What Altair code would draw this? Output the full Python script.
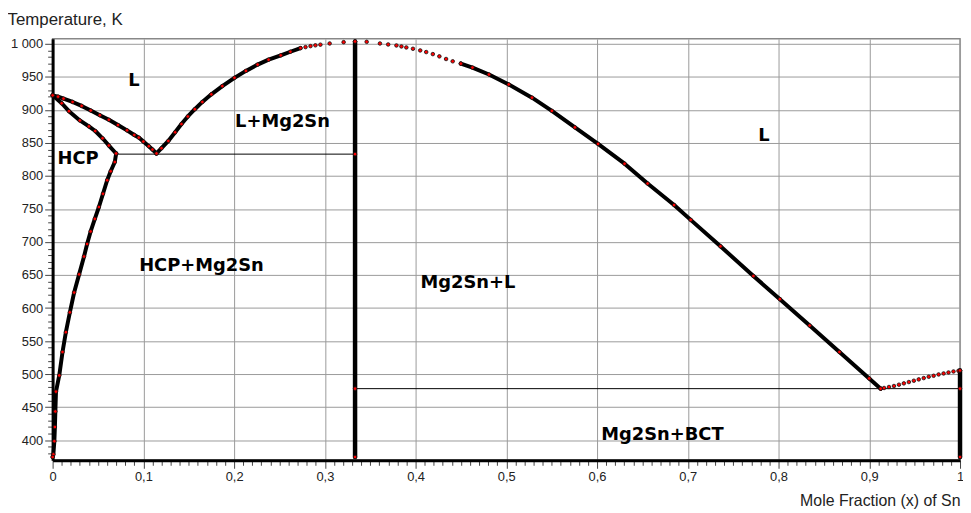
import json
import altair as alt
import pandas as pd

# ---------------- data ----------------
# Mg-rich liquidus (L / L+HCP)
mg_liq_x = [0.000, 0.006, 0.012, 0.022, 0.032, 0.042, 0.052, 0.062, 0.072, 0.082, 0.090, 0.095, 0.100, 0.106, 0.110, 0.1145]
mg_liq_T = [922, 920, 917, 912, 906, 899, 892, 885, 877, 869, 862, 858, 852, 845, 840, 834]
# Mg-rich solidus
mg_sol_x = [0.000, 0.010, 0.018, 0.030, 0.040, 0.047, 0.055, 0.062, 0.070]
mg_sol_T = [922, 910, 898, 884, 875, 868, 857, 846, 834]
# HCP solvus
solvus_x = [0.0700, 0.0685, 0.0640, 0.0601, 0.0555, 0.0510, 0.0465, 0.0419, 0.0380, 0.0346, 0.0292,
            0.0237, 0.0190, 0.0146, 0.0109, 0.0073, 0.0037, 0.0030, 0.0025, 0.0019, 0.0008, 0.0000]
solvus_T = [834, 821, 807, 793.5, 773, 753, 735, 716, 697, 678, 651,
            623.5, 593.5, 563.5, 533.5, 498, 473.5, 443.5, 420, 398.5, 378.5, 374.5]
# Mg2Sn liquidus, Mg side (dense part)
m2s_left_x = [0.1145, 0.1200, 0.1275, 0.1350, 0.1420, 0.1490, 0.1567, 0.1650, 0.1749, 0.1870, 0.2004,
              0.2130, 0.2259, 0.2380, 0.2514, 0.2620, 0.2732]
m2s_left_T = [834, 842, 853, 866, 878.5, 890, 901, 912, 923.5, 936, 948.5,
              959, 968.5, 976, 982.5, 988, 993.5]
# Mg2Sn liquidus near the congruent maximum (sparse points)
top_left_x = [0.2787, 0.2842, 0.2896, 0.2951, 0.3053, 0.3207, 0.3333]
top_left_T = [995, 996.5, 997.7, 998.7, 1000.5, 1002.5, 1003.5]
top_right_x = [0.3461, 0.3607, 0.3698, 0.3789, 0.3844, 0.3898, 0.3971, 0.4051, 0.4117, 0.4190,
               0.4262, 0.4336, 0.4409, 0.4499]
top_right_T = [1003, 1000.5, 999, 997.5, 996, 994.5, 992.5, 990, 987.5, 984.4,
               981, 977, 973.5, 970]
# Mg2Sn liquidus, Sn side (dense part)
m2s_right_x = [0.4499, 0.4627, 0.4809, 0.5027, 0.5283, 0.5502, 0.5756, 0.6011, 0.6303, 0.6557, 0.6849,
               0.7032, 0.7360, 0.7723, 0.8015, 0.8343, 0.8671, 0.8999, 0.9126]
m2s_right_T = [970, 964, 953.5, 938.5, 918.5, 898.5, 873.5, 848.5, 818.5, 788.5, 756,
               733.5, 693.5, 648.5, 613.5, 573.5, 533.5, 493.5, 478]
# Sn liquidus (sparse points)
sn_liq_x = [0.9126, 0.9163, 0.9217, 0.9272, 0.9327, 0.9381, 0.9436, 0.9491, 0.9545, 0.9600, 0.9655,
            0.9709, 0.9764, 0.9819, 0.9873, 0.9928, 0.9983, 1.0]
sn_liq_T = [478, 479, 480.5, 482, 484, 486, 488, 490, 492, 494, 496,
            497.5, 499.5, 501, 502.5, 504, 505, 505.5]
# Mg2Sn compound and pure Sn lines
m2s_vert_x = [0.3333, 0.3333, 0.3333, 0.3333]
m2s_vert_T = [374.5, 478, 833, 1003.5]
sn_vert_x = [1.0, 1.0, 1.0]
sn_vert_T = [374.5, 478, 505.5]
# eutectic tie lines
tie_x1 = [0.070, 0.3333]
tie_x2 = [0.3333, 1.0]
tie_T = [833, 478]
# phase-field labels
lab_text = ["L", "L+Mg2Sn", "HCP", "HCP+Mg2Sn", "Mg2Sn+L", "L", "Mg2Sn+BCT"]
lab_x = [0.0896, 0.2533, 0.028, 0.164, 0.4576, 0.784, 0.672]
lab_T = [944, 881, 826, 663, 637.5, 860, 408]
# axis ticks
x_major = [0, 0.1, 0.2, 0.3, 0.4, 0.5, 0.6, 0.7, 0.8, 0.9, 1]
x_major_labels = ["0", "0,1", "0,2", "0,3", "0,4", "0,5", "0,6", "0,7", "0,8", "0,9", "1"]
x_minor = [round(i * 0.01, 2) for i in range(101)]
y_major = [400, 450, 500, 550, 600, 650, 700, 750, 800, 850, 900, 950, 1000]
y_major_labels = ["400", "450", "500", "550", "600", "650", "700", "750", "800", "850", "900", "950", "1 000"]
y_minor = list(range(380, 1001, 10))

# ---------------- tables ----------------
curves = [
    ("mg_liq", mg_liq_x, mg_liq_T, 4),
    ("mg_sol", mg_sol_x, mg_sol_T, 4),
    ("solvus", solvus_x, solvus_T, 4),
    ("m2s_left", m2s_left_x, m2s_left_T, 4),
    ("top_left", top_left_x, top_left_T, 0),
    ("top_right", top_right_x, top_right_T, 0),
    ("m2s_right", m2s_right_x, m2s_right_T, 4),
    ("sn_liq", sn_liq_x, sn_liq_T, 0),
    ("m2s_vert", m2s_vert_x, m2s_vert_T, 4.5),
    ("sn_vert", sn_vert_x, sn_vert_T, 4.5),
]
rows = []
for name, xs, ts, w in curves:
    for i, (xv, tv) in enumerate(zip(xs, ts)):
        rows.append({"curve": name, "idx": i, "x": xv, "T": tv, "w": w})
df = pd.DataFrame(rows)
df_lines = df[df["w"] > 0]
df_ties = pd.DataFrame({"x": tie_x1, "x2": tie_x2, "T": tie_T})
df_lab = pd.DataFrame({"label": lab_text, "x": lab_x, "T": lab_T})

# ---------------- axes ----------------
xm = json.dumps(x_major)
xl = json.dumps(x_major_labels)
ym = json.dumps(y_major)
yl = json.dumps(y_major_labels)
test_x = f"indexof({xm}, datum.value) >= 0"
test_y = f"indexof({ym}, datum.value) >= 0"

FONT = "Liberation Sans"
GRID = "#9a9a9a"
xaxis = alt.Axis(
    values=x_minor,
    labelExpr=f"{test_x} ? {xl}[indexof({xm}, datum.value)] : ''",
    tickSize={"condition": {"test": test_x, "value": 8}, "value": 5},
    gridOpacity={"condition": {"test": test_x, "value": 1}, "value": 0},
    grid=True, gridColor=GRID, gridWidth=1,
    labelOverlap=False, labelFlush=False,
    domainColor="black", domainWidth=3, tickColor="#444", tickWidth=1,
    labelFont=FONT, labelFontSize=13, labelColor="#222", labelPadding=2,
    title="Mole Fraction (x) of Sn", titleFont=FONT, titleFontSize=16,
    titleFontWeight="normal", titleColor="#222", titleAlign="right",
    titleX=915, titleY=46, titleBaseline="alphabetic", titleAngle=0,
)
yaxis = alt.Axis(
    values=y_minor,
    labelExpr=f"{test_y} ? {yl}[indexof({ym}, datum.value)] : ''",
    tickSize={"condition": {"test": test_y, "value": 8}, "value": 5},
    gridOpacity={"condition": {"test": test_y, "value": 1}, "value": 0},
    grid=True, gridColor=GRID, gridWidth=1,
    labelOverlap=False, labelFlush=False,
    domainColor="black", domainWidth=3, tickColor="#444", tickWidth=1,
    labelFont=FONT, labelFontSize=13, labelColor="#222", labelPadding=2,
    title="Temperature, K", titleFont=FONT, titleFontSize=17,
    titleFontWeight="normal", titleColor="#222", titleAngle=0,
    titleAlign="left", titleBaseline="alphabetic", titleX=-46, titleY=-14,
)
xscale = alt.Scale(domain=[0, 1], nice=False, zero=False)
yscale = alt.Scale(domain=[369.5, 1007.5], nice=False, zero=False)


def X(field="x"):
    return alt.X(f"{field}:Q", scale=xscale, axis=xaxis)


def Y(field="T"):
    return alt.Y(f"{field}:Q", scale=yscale, axis=yaxis)


ties = alt.Chart(df_ties).mark_rule(color="black", strokeWidth=1).encode(
    x=X(), x2="x2:Q", y=Y()
)
lines = alt.Chart(df_lines).mark_line(color="black", strokeCap="round", strokeJoin="round").encode(
    x=X(), y=Y(), detail="curve:N", order="idx:Q",
    strokeWidth=alt.StrokeWidth("w:Q", scale=None, legend=None),
)
points = alt.Chart(df).mark_circle(size=13, color="#ff0000", stroke="#111", strokeWidth=0.8, opacity=1).encode(
    x=X(), y=Y()
)
labels = alt.Chart(df_lab).mark_text(
    font="DejaVu Sans", fontWeight="bold", fontSize=18, color="black",
    align="center", baseline="middle"
).encode(x=X(), y=Y(), text="label:N")

chart = alt.layer(ties, lines, points, labels).properties(
    width=915, height=425,
    autosize=alt.AutoSizeParams(type="none"),
    padding={"left": 45, "top": 29, "right": 3, "bottom": 51},
    background="white",
).configure_view(stroke="#888", strokeWidth=1.5)

chart.save("out.html", embed_options={"renderer": "svg", "actions": False})
